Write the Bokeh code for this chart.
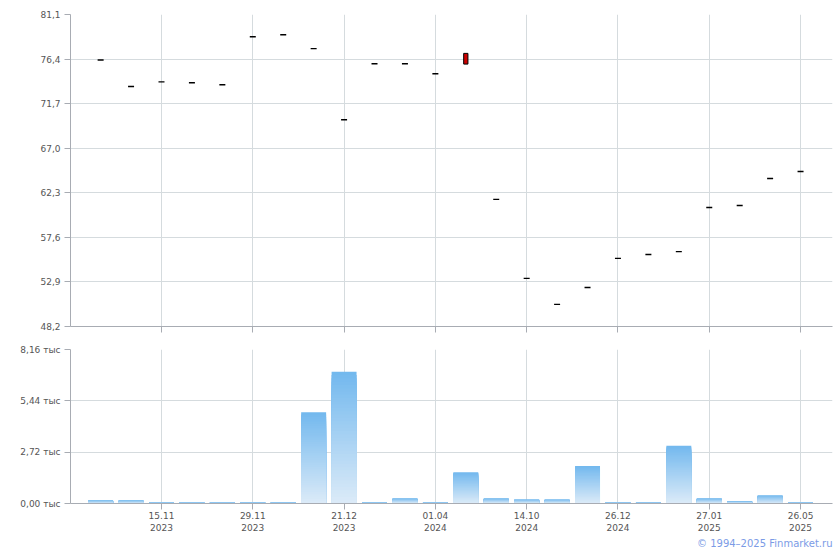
from bokeh.plotting import figure
from bokeh.layouts import column
from bokeh.models import (ColumnDataSource, FixedTicker, CustomJSTickFormatter, Range1d, Title)
from bokeh.embed import file_html
from bokeh.resources import INLINE

# ---- data ----
idx = list(range(24))
opens = [76.3, 73.5, 74.0, 73.9, 73.7, 78.75, 78.96, 77.5, 70.0, 75.9, 75.9, 74.85,
         77.0, 61.6, 53.27, 50.53, 52.32, 55.38, 55.8, 56.1, 60.75, 60.96, 63.8, 64.54]
closes = [76.3, 73.5, 74.0, 73.9, 73.7, 78.75, 78.96, 77.5, 70.0, 75.9, 75.9, 74.85,
          75.87, 61.6, 53.27, 50.53, 52.32, 55.38, 55.8, 56.1, 60.75, 60.96, 63.8, 64.54]
volumes = [0.16, 0.16, 0.05, 0.05, 0.05, 0.05, 0.05, 4.83, 6.98, 0.05, 0.27, 0.05,
           1.66, 0.27, 0.21, 0.21, 1.99, 0.05, 0.05, 3.06, 0.27, 0.11, 0.43, 0.05]
tick_pos = [2, 5, 8, 11, 14, 17, 20, 23]
tick_labels = ["15.11\n2023", "29.11\n2023", "21.12\n2023", "01.04\n2024",
               "14.10\n2024", "26.12\n2024", "27.01\n2025", "26.05\n2025"]
price_ticks = [48.2, 52.9, 57.6, 62.3, 67.0, 71.7, 76.4, 81.1]
vol_ticks = [0.0, 2.72, 5.44, 8.16]

FONT = "DejaVu Sans"
FS = "9px"
LABEL_COLOR = "#555555"
AXIS_COLOR = "#a8acb3"
GRID_COLOR = "#d5dbde"

x_range = Range1d(-0.99, 24.05)


def style(p):
    p.outline_line_color = None
    p.background_fill_color = "white"
    p.border_fill_color = "white"
    for ax in p.axis:
        ax.axis_line_color = AXIS_COLOR
        ax.major_tick_line_color = AXIS_COLOR
        ax.minor_tick_line_color = None
        ax.major_tick_in = 0
        ax.major_tick_out = 6
        ax.major_label_text_font = FONT
        ax.major_label_text_font_size = FS
        ax.major_label_text_color = LABEL_COLOR
    for g in p.grid:
        g.grid_line_color = GRID_COLOR


# ---- top: price ----
top = figure(width=838, height=340, x_range=x_range, y_range=Range1d(48.2, 81.1),
             output_backend="svg", toolbar_location=None,
             min_border_left=70, min_border_right=6, min_border_top=14, min_border_bottom=14)
style(top)
top.xaxis.ticker = FixedTicker(ticks=tick_pos)
top.xaxis.formatter = CustomJSTickFormatter(code="return ''")
top.xaxis.major_label_standoff = 0
top.yaxis.ticker = FixedTicker(ticks=price_ticks)
top.yaxis.formatter = CustomJSTickFormatter(code="return tick.toFixed(1).replace('.', ',')")
top.yaxis.major_label_standoff = 4

flat_x = [i for i, o, c in zip(idx, opens, closes) if o == c]
flat_y = [c for o, c in zip(opens, closes) if o == c]
top.scatter(flat_x, flat_y, marker="dash", size=6, line_color="black", line_width=1.4)

body = ColumnDataSource(dict(
    x=[i for i, o, c in zip(idx, opens, closes) if o != c],
    top=[max(o, c) for o, c in zip(opens, closes) if o != c],
    bottom=[min(o, c) for o, c in zip(opens, closes) if o != c],
    color=["#cc0000" if c < o else "#00aa00" for o, c in zip(opens, closes) if o != c],
))
top.vbar(x="x", top="top", bottom="bottom", width=0.14, fill_color="color",
         line_color="black", line_width=1, source=body)

# ---- bottom: volume ----
bot = figure(width=838, height=208, x_range=x_range, y_range=Range1d(0, 8.16),
             output_backend="svg", toolbar_location=None,
             min_border_left=70, min_border_right=6, min_border_top=9, min_border_bottom=4)
style(bot)
bot.xaxis.ticker = FixedTicker(ticks=tick_pos)
bot.xaxis.major_label_overrides = {t: l for t, l in zip(tick_pos, tick_labels)}
bot.xaxis.major_label_standoff = 1
bot.yaxis.ticker = FixedTicker(ticks=vol_ticks)
bot.yaxis.formatter = CustomJSTickFormatter(code="return tick.toFixed(2).replace('.', ',') + ' тыс'")
bot.yaxis.major_label_standoff = 4

# gradient bars: nested full-height layers, tallest (darkest) drawn first
N = 40
dark = (0x72, 0xb8, 0xee)
light = (0xdc, 0xeb, 0xf8)
xs, tops, cols = [], [], []
for k in range(N - 1, -1, -1):
    f = (k + 0.5) / N
    r, g, b = (int(round(light[j] + (dark[j] - light[j]) * f)) for j in range(3))
    for i, v in zip(idx, volumes):
        xs.append(i)
        tops.append(v * (k + 1) / N)
        cols.append("#%02x%02x%02x" % (r, g, b))
bot.vbar(x=xs, top=tops, bottom=0, width=0.82, fill_color=cols, line_color=None)

bot.add_layout(Title(text="© 1994–2025 Finmarket.ru", text_font=FONT, text_font_size="10px",
                     text_color="#7b9be6", text_font_style="normal", align="right",
                     standoff=0, offset=0), "below")

layout = column(top, bot, spacing=0)
open("out.html", "w").write(file_html(layout, INLINE))
